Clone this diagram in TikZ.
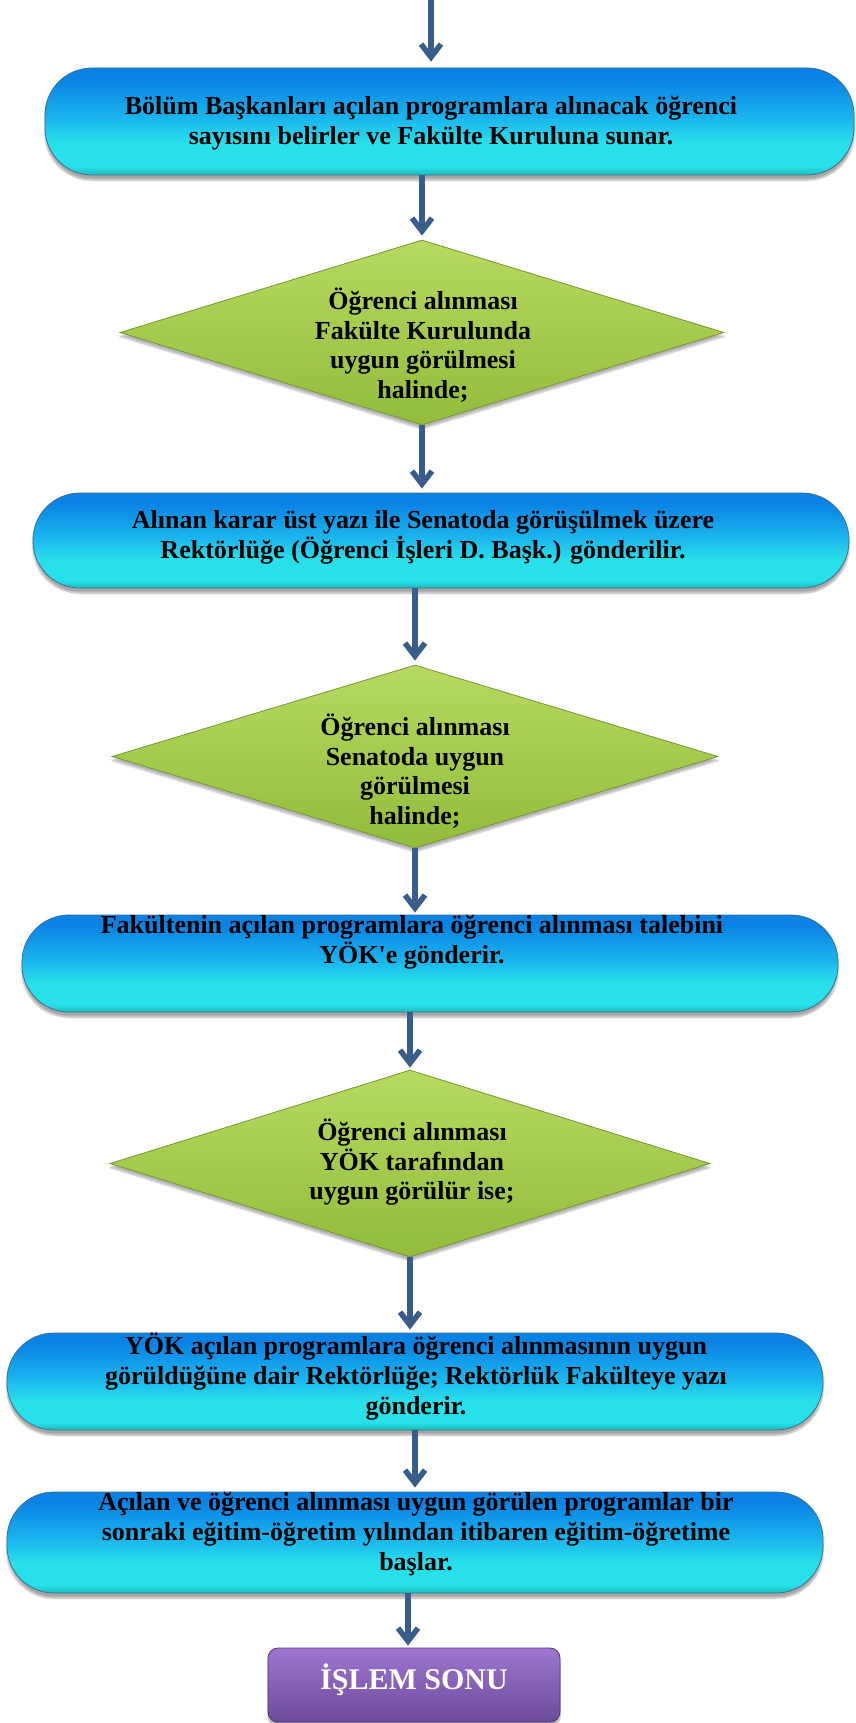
\documentclass[tikz,border=0pt]{standalone}
\usepackage{fontspec}
\setmainfont{Liberation Serif}[Ligatures=TeXOff]
\usetikzlibrary{shapes.geometric, arrows.meta, shadows.blur}

% palette
\definecolor{pilltop}{RGB}{10,130,228}
\definecolor{pillmid}{RGB}{26,180,238}
\definecolor{pilllow}{RGB}{40,224,234}
\definecolor{pillrim}{RGB}{26,190,184}
\definecolor{pillline}{RGB}{60,110,150}
\definecolor{dmtop}{RGB}{182,218,96}
\definecolor{dmbot}{RGB}{146,188,60}
\definecolor{dmline}{RGB}{118,150,52}
\definecolor{endtop}{RGB}{158,118,208}
\definecolor{endbot}{RGB}{108,74,154}
\definecolor{endline}{RGB}{80,55,112}
\definecolor{arrowblue}{RGB}{56,93,138}

% blue pill gradient: dark blue on top, cyan below, teal rim at the bottom
\pgfdeclareverticalshading{pillshade}{100bp}{color(0bp)=(pillrim); color(25bp)=(pillrim);
  color(29bp)=(pilllow); color(40bp)=(pilllow); color(52bp)=(pillmid); color(70bp)=(pilltop);
  color(75bp)=(pilltop); color(100bp)=(pilltop)}

\tikzset{
  pill/.style={rectangle, rounded corners=47pt, draw=pillline, line width=0.8pt,
    shading=pillshade, inner sep=0pt,
    blur shadow={shadow xshift=0pt, shadow yshift=-5pt, shadow opacity=35, shadow blur steps=8}},
  decision/.style={diamond, draw=dmline, line width=0.8pt, top color=dmtop, bottom color=dmbot,
    inner sep=0pt,
    blur shadow={shadow xshift=0pt, shadow yshift=-4pt, shadow opacity=30, shadow blur steps=8}},
  endbox/.style={rectangle, rounded corners=10pt, draw=endline, line width=0.8pt,
    top color=endtop, bottom color=endbot, inner sep=0pt,
    blur shadow={shadow xshift=0pt, shadow yshift=-4pt, shadow opacity=35, shadow blur steps=8}},
  txt/.style={font=\bfseries\fontsize{26}{30}\selectfont, align=center, inner sep=0pt},
  dtxt/.style={font=\bfseries\fontsize{26}{29.5}\selectfont, align=center, inner sep=0pt},
  endtxt/.style={font=\bfseries\fontsize{30}{36}\selectfont, text=white, inner sep=0pt},
  arr/.style={draw=arrowblue, line width=5.5pt, -{Straight Barb[length=13pt, width=20pt]}}
}

\begin{document}
\begin{tikzpicture}[x=1pt, y=-1pt]
\useasboundingbox (0,0) rectangle (856,1723);

% shapes
\node[pill, minimum width=809pt, minimum height=107pt] (b1) at (449.5,121.5) {};
\node[decision, minimum width=604pt, minimum height=185pt] (d1) at (422,332.5) {};
\node[pill, minimum width=816pt, minimum height=95pt] (b2) at (441,540.5) {};
\node[decision, minimum width=606pt, minimum height=183pt] (d2) at (415,756.5) {};
\node[pill, minimum width=816pt, minimum height=97pt] (b3) at (430,963.5) {};
\node[decision, minimum width=600pt, minimum height=187pt] (d3) at (410,1163.5) {};
\node[pill, minimum width=816pt, minimum height=97pt] (b4) at (415,1381.5) {};
\node[pill, minimum width=816pt, minimum height=101pt] (b5) at (415,1542.5) {};
\node[endbox, minimum width=292pt, minimum height=74pt] (e) at (414,1685) {};

% texts
\node[txt] (t1) at (431,123) {Bölüm Başkanları açılan programlara alınacak öğrenci\\sayısını belirler ve Fakülte Kuruluna sunar.};
\node[dtxt] (dt1) at (423,345) {Öğrenci alınması\\Fakülte Kurulunda\\uygun görülmesi\\halinde;};
\node[txt] (t2) at (423,537.5) {Alınan karar üst yazı ile Senatoda görüşülmek üzere\\Rektörlüğe (Öğrenci İşleri D. Başk.) gönderilir.};
\node[dtxt] (dt2) at (415,771) {Öğrenci alınması\\Senatoda uygun\\görülmesi\\halinde;};
\node[txt] (t3) at (412,942) {Fakültenin açılan programlara öğrenci alınması talebini\\YÖK'e gönderir.};
\node[dtxt] (dt3) at (412,1162.5) {Öğrenci alınması\\YÖK tarafından\\uygun görülür ise;};
\node[txt] (t4) at (416,1377) {YÖK açılan programlara öğrenci alınmasının uygun\\görüldüğüne dair Rektörlüğe; Rektörlük Fakülteye yazı\\gönderir.};
\node[txt] (t5) at (416,1534) {Açılan ve öğrenci alınması uygun görülen programlar bir\\sonraki eğitim-öğretim yılından itibaren eğitim-öğretime\\başlar.};
\node[endtxt] (te) at (414,1680) {İŞLEM SONU};

% connectors
\coordinate (start) at (431,0);
\draw[arr, shorten >=6pt] (start) -- (start |- b1.north);
\draw[arr, shorten >=4pt] (b1.south -| d1.north) -- (d1.north);
\draw[arr, shorten >=4pt] (d1.south) -- (d1.south |- b2.north);
\draw[arr, shorten >=4pt] (b2.south -| d2.north) -- (d2.north);
\draw[arr, shorten >=2pt] (d2.south) -- (d2.south |- b3.north);
\draw[arr, shorten >=2pt] (b3.south -| d3.north) -- (d3.north);
\draw[arr, shorten >=3pt] (d3.south) -- (d3.south |- b4.north);
\draw[arr, shorten >=4pt] (b4.south) -- (b5.north);
\draw[arr, shorten >=2pt] ([xshift=-6pt]b5.south -| e.north) -- ([xshift=-6pt]e.north);
\end{tikzpicture}
\end{document}
